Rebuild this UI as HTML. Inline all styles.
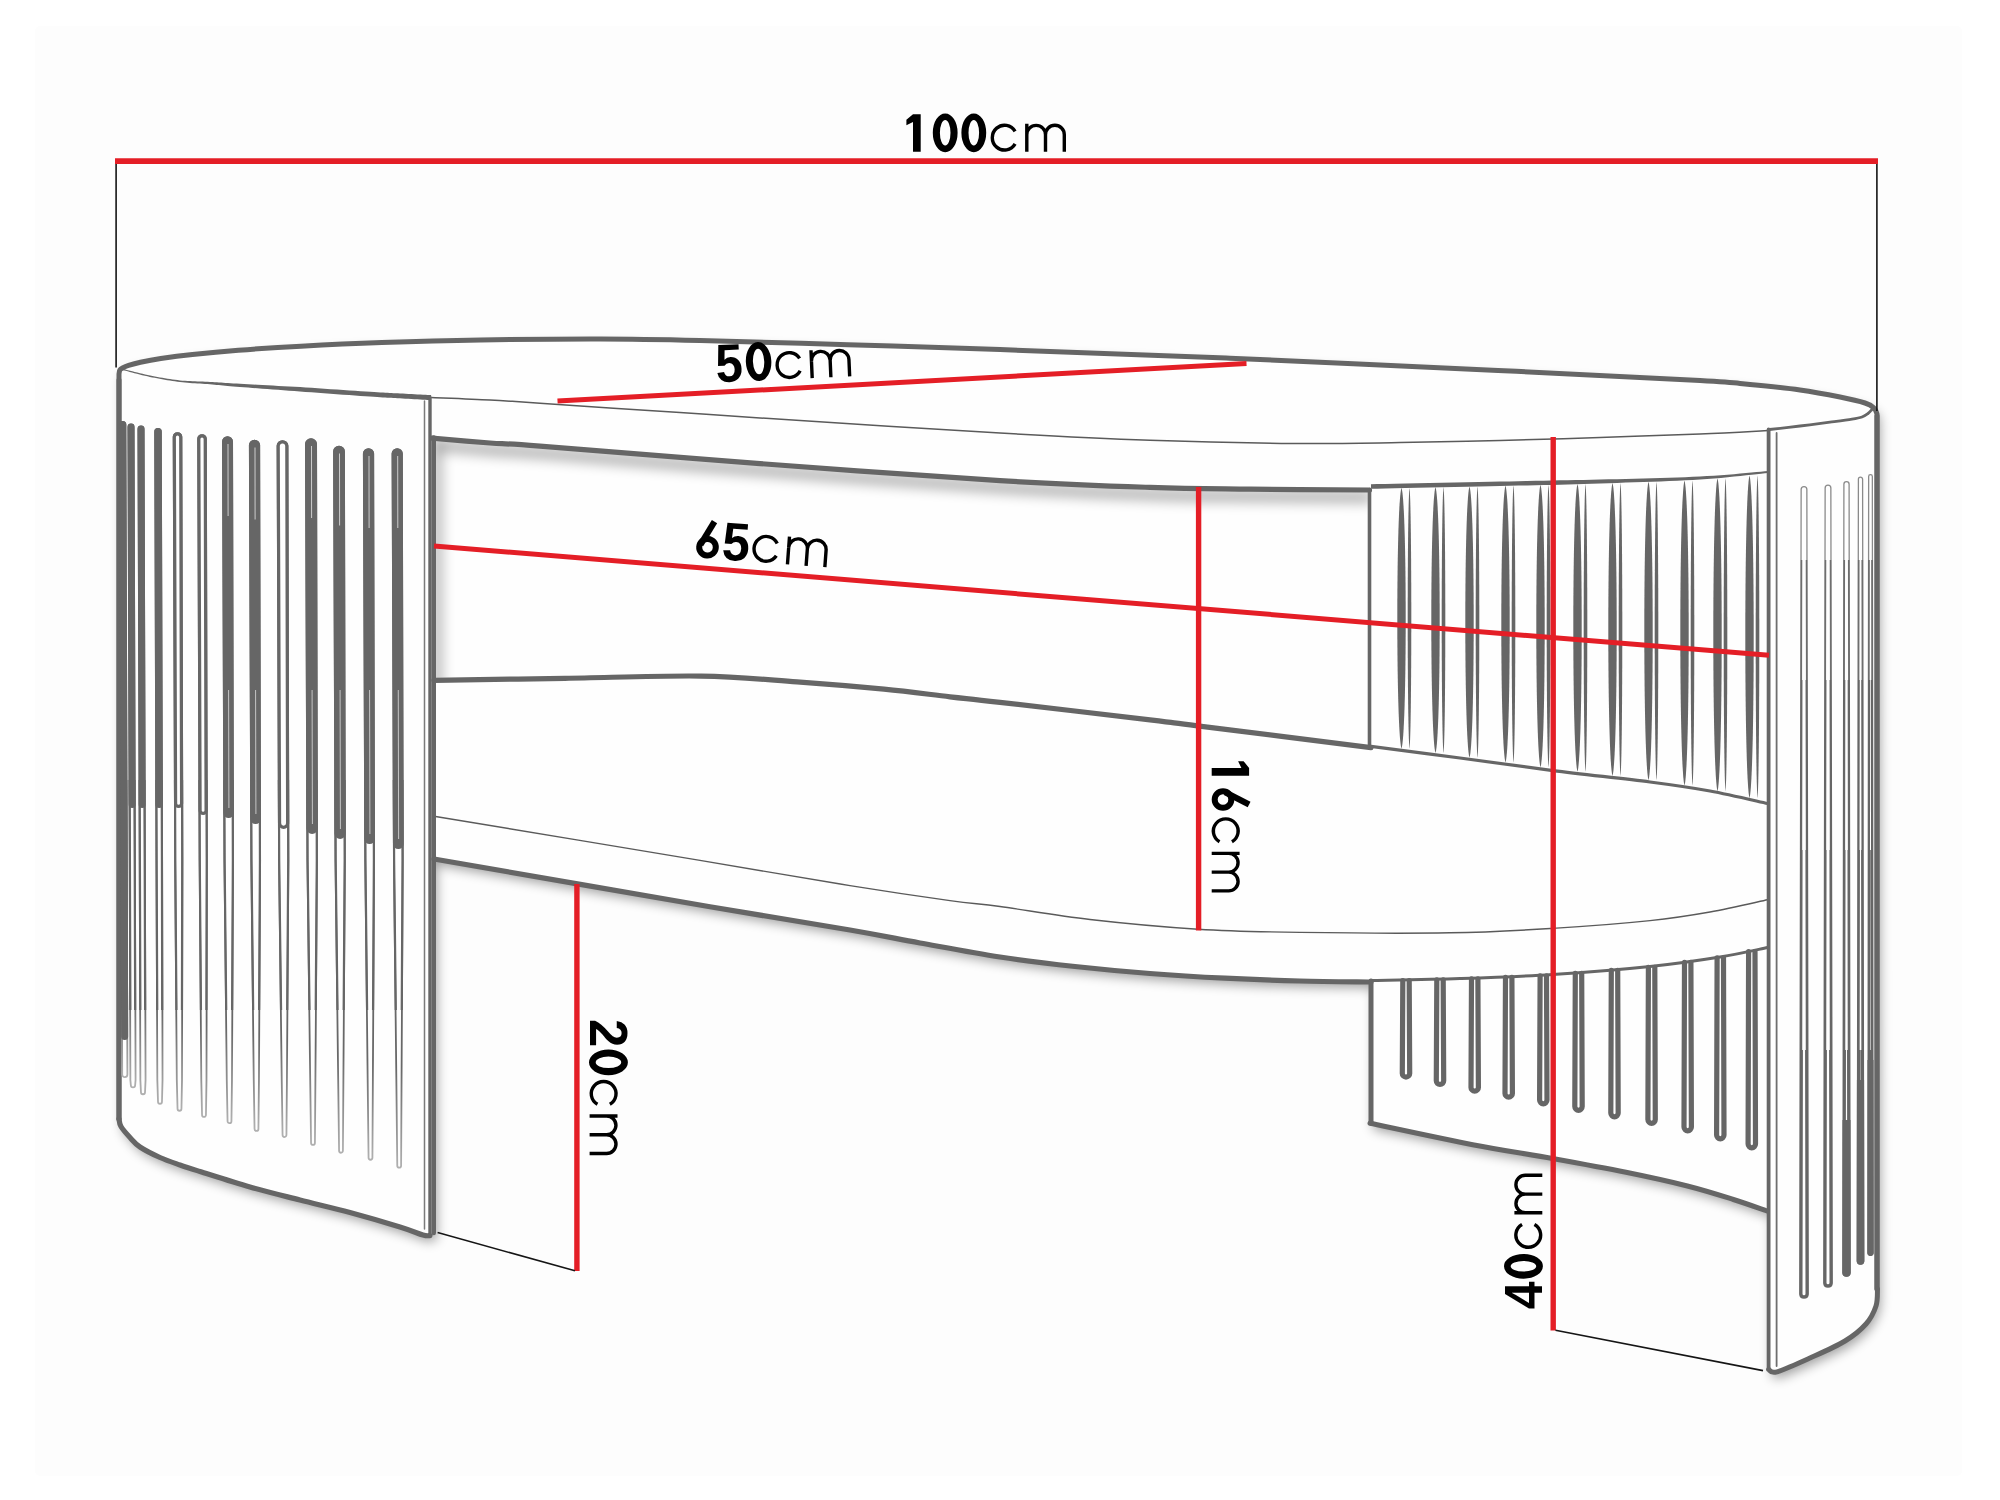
<!DOCTYPE html>
<html><head><meta charset="utf-8"><title>Table dimensions</title>
<style>
html,body{margin:0;padding:0;background:#fff;}
body{width:2000px;height:1500px;overflow:hidden;font-family:"Liberation Sans",sans-serif;}
svg{display:block;}
</style></head><body>
<svg xmlns="http://www.w3.org/2000/svg" width="2000" height="1500" viewBox="0 0 2000 1500">
<defs>
<filter id="blur6" x="-10%" y="-10%" width="120%" height="120%"><feGaussianBlur stdDeviation="6"/></filter>
<filter id="blur5" x="-10%" y="-10%" width="120%" height="120%"><feGaussianBlur stdDeviation="5"/></filter>
<filter id="blur7" x="-10%" y="-30%" width="120%" height="160%"><feGaussianBlur stdDeviation="7"/></filter>
<linearGradient id="gL" x1="0" y1="0" x2="0" y2="1">
  <stop offset="0" stop-color="#666"/><stop offset="0.86" stop-color="#686868"/><stop offset="1" stop-color="#b0b0b0"/>
</linearGradient>
<linearGradient id="gR" x1="0" y1="0" x2="0" y2="1">
  <stop offset="0" stop-color="#c0c0c0"/><stop offset="0.2" stop-color="#888"/><stop offset="1" stop-color="#666"/>
</linearGradient>
<clipPath id="cMid"><rect x="100" y="780" width="322" height="230"/></clipPath>
<clipPath id="cRa"><rect x="1780" y="460" width="100" height="100"/></clipPath>
<clipPath id="cRb"><rect x="1780" y="560" width="100" height="120"/></clipPath>
<clipPath id="cRc"><rect x="1780" y="680" width="100" height="170"/></clipPath>
<clipPath id="cRd"><rect x="1780" y="850" width="100" height="200"/></clipPath>
<clipPath id="cRe"><rect x="1780" y="1050" width="100" height="350"/></clipPath>
<clipPath id="cRf2"><rect x="1780" y="1120" width="100" height="300"/></clipPath>
<clipPath id="cRf3"><rect x="1780" y="1080" width="100" height="300"/></clipPath>
<clipPath id="cRf4"><rect x="1780" y="1060" width="100" height="300"/></clipPath>
</defs>
<rect x="0" y="0" width="2000" height="1500" fill="#fff"/>
<rect x="35" y="26" width="1927" height="1450" rx="5" fill="#fdfdfd"/>
<path d="M119,1119 L119,374 C119.14,373.34 119.29,371.01 119.87,370.02 C120.45,369.03 121.01,368.81 122.46,368.05 C123.91,367.29 125.59,366.41 128.59,365.44 C131.59,364.47 135.11,363.4 140.48,362.25 C145.85,361.1 152.14,359.84 160.8,358.54 C169.47,357.24 179.54,355.85 192.47,354.47 C205.4,353.09 220.29,351.63 238.38,350.24 C256.47,348.85 277.1,347.42 301.01,346.15 C324.92,344.88 351.88,343.61 381.82,342.59 C411.76,341.57 444.27,340.63 480.63,340.03 C516.99,339.43 563.44,338.92 600,339 C636.56,339.08 658.67,339.55 700,340.5 C741.33,341.45 798,343.18 848,344.7 C898,346.22 936.33,347.35 1000,349.6 C1063.67,351.85 1147,354.73 1230,358.2 C1313,361.67 1419.67,366.68 1498,370.4 C1576.33,374.12 1658,378.15 1700,380.5 C1742,382.85 1733.33,382.92 1750,384.5 C1766.67,386.08 1785,387.92 1800,390 C1815,392.08 1829.17,394.83 1840,397 C1850.83,399.17 1859.33,401.17 1865,403 C1870.67,404.83 1872,406.17 1874,408 C1876,409.83 1876.5,413 1877,414 L1877.5,1289 C1877.25,1291.83 1877.92,1300.17 1876,1306 C1874.08,1311.83 1871.17,1318.17 1866,1324 C1860.83,1329.83 1854.33,1335.33 1845,1341 C1835.67,1346.67 1821.33,1352.87 1810,1358 C1798.67,1363.13 1783.9,1369.88 1777,1371.8 C1770.1,1373.72 1770,1369.88 1768.6,1369.5 L1768.6,1211 C1761.4,1209.08 1746.67,1203.67 1733.4,1199.5 C1720.13,1195.33 1705.3,1190.53 1687.4,1186 C1669.5,1181.47 1648.48,1176.88 1626,1172.3 C1603.52,1167.72 1578.05,1163.1 1552.5,1158.5 C1526.95,1153.9 1503.12,1150.57 1472.7,1144.7 C1442.28,1138.83 1387.12,1126.87 1370,1123.3 L1371,982 C1359.17,981.83 1324.33,981.63 1300,981 C1275.67,980.37 1250,979.45 1225,978.2 C1200,976.95 1175,975.45 1150,973.5 C1125,971.55 1100,969.25 1075,966.5 C1050,963.75 1025.83,960.92 1000,957 C974.17,953.08 945,947.5 920,943 C895,938.5 885,936.03 850,930 C815,923.97 779.33,918.63 710,906.8 C640.67,894.97 480,866.97 434,859 L434,1233 C428.83,1235.5 428,1236.43 423,1235 C418,1233.57 412.17,1230.75 400,1227 C387.83,1223.25 366.67,1217 350,1212.5 C333.33,1208 316.67,1204.25 300,1200 C283.33,1195.75 266.67,1191.75 250,1187 C233.33,1182.25 211.67,1175.17 200,1171.5 C188.33,1167.83 186.67,1167.33 180,1165 C173.33,1162.67 166.67,1160.5 160,1157.5 C153.33,1154.5 145,1150.33 140,1147 C135,1143.67 133.17,1140.92 130,1137.5 C126.83,1134.08 122.83,1129.58 121,1126.5 C119.17,1123.42 119.33,1120.25 119,1119 Z" fill="#000" opacity="0.36" filter="url(#blur6)" transform="translate(3,6)"/>
<path d="M119,1119 L119,374 C119.14,373.34 119.29,371.01 119.87,370.02 C120.45,369.03 121.01,368.81 122.46,368.05 C123.91,367.29 125.59,366.41 128.59,365.44 C131.59,364.47 135.11,363.4 140.48,362.25 C145.85,361.1 152.14,359.84 160.8,358.54 C169.47,357.24 179.54,355.85 192.47,354.47 C205.4,353.09 220.29,351.63 238.38,350.24 C256.47,348.85 277.1,347.42 301.01,346.15 C324.92,344.88 351.88,343.61 381.82,342.59 C411.76,341.57 444.27,340.63 480.63,340.03 C516.99,339.43 563.44,338.92 600,339 C636.56,339.08 658.67,339.55 700,340.5 C741.33,341.45 798,343.18 848,344.7 C898,346.22 936.33,347.35 1000,349.6 C1063.67,351.85 1147,354.73 1230,358.2 C1313,361.67 1419.67,366.68 1498,370.4 C1576.33,374.12 1658,378.15 1700,380.5 C1742,382.85 1733.33,382.92 1750,384.5 C1766.67,386.08 1785,387.92 1800,390 C1815,392.08 1829.17,394.83 1840,397 C1850.83,399.17 1859.33,401.17 1865,403 C1870.67,404.83 1872,406.17 1874,408 C1876,409.83 1876.5,413 1877,414 L1877.5,1289 C1877.25,1291.83 1877.92,1300.17 1876,1306 C1874.08,1311.83 1871.17,1318.17 1866,1324 C1860.83,1329.83 1854.33,1335.33 1845,1341 C1835.67,1346.67 1821.33,1352.87 1810,1358 C1798.67,1363.13 1783.9,1369.88 1777,1371.8 C1770.1,1373.72 1770,1369.88 1768.6,1369.5 L1768.6,1211 C1761.4,1209.08 1746.67,1203.67 1733.4,1199.5 C1720.13,1195.33 1705.3,1190.53 1687.4,1186 C1669.5,1181.47 1648.48,1176.88 1626,1172.3 C1603.52,1167.72 1578.05,1163.1 1552.5,1158.5 C1526.95,1153.9 1503.12,1150.57 1472.7,1144.7 C1442.28,1138.83 1387.12,1126.87 1370,1123.3 L1371,982 C1359.17,981.83 1324.33,981.63 1300,981 C1275.67,980.37 1250,979.45 1225,978.2 C1200,976.95 1175,975.45 1150,973.5 C1125,971.55 1100,969.25 1075,966.5 C1050,963.75 1025.83,960.92 1000,957 C974.17,953.08 945,947.5 920,943 C895,938.5 885,936.03 850,930 C815,923.97 779.33,918.63 710,906.8 C640.67,894.97 480,866.97 434,859 L434,1233 C428.83,1235.5 428,1236.43 423,1235 C418,1233.57 412.17,1230.75 400,1227 C387.83,1223.25 366.67,1217 350,1212.5 C333.33,1208 316.67,1204.25 300,1200 C283.33,1195.75 266.67,1191.75 250,1187 C233.33,1182.25 211.67,1175.17 200,1171.5 C188.33,1167.83 186.67,1167.33 180,1165 C173.33,1162.67 166.67,1160.5 160,1157.5 C153.33,1154.5 145,1150.33 140,1147 C135,1143.67 133.17,1140.92 130,1137.5 C126.83,1134.08 122.83,1129.58 121,1126.5 C119.17,1123.42 119.33,1120.25 119,1119 Z" fill="#fefefe"/>
<clipPath id="winclip"><path d="M432,438.2 C441.67,439 472,441.68 490,443 C508,444.32 495,442.67 540,446.1 C585,449.53 683.33,457.85 760,463.6 C836.67,469.35 935,476.63 1000,480.6 C1065,484.57 1108.33,485.98 1150,487.4 C1191.67,488.82 1213.42,488.67 1250,489.1 C1286.58,489.53 1349.58,489.85 1369.5,490 L1369.5,746.3 C1342.08,743.97 1234.33,730.42 1197.5,725.8 C1160.67,721.18 1182.92,723.82 1150,719.9 C1117.08,715.98 1033.33,706.15 1000,702.3 C966.67,698.45 969.33,698.98 950,696.8 C930.67,694.62 909.5,691.68 884,689.2 C858.5,686.72 827.5,684.08 797,681.9 C766.5,679.72 739.67,676.7 701,676.1 C662.33,675.5 609.5,677.6 565,678.3 C520.5,679 455.83,679.97 434,680.3 Z"/></clipPath>
<g clip-path="url(#winclip)"><g opacity="0.5" filter="url(#blur7)" transform="translate(3,7)"><path d="M432,438.2 C441.67,439 472,441.68 490,443 C508,444.32 495,442.67 540,446.1 C585,449.53 683.33,457.85 760,463.6 C836.67,469.35 935,476.63 1000,480.6 C1065,484.57 1108.33,485.98 1150,487.4 C1191.67,488.82 1213.42,488.67 1250,489.1 C1286.58,489.53 1349.58,489.85 1369.5,490" fill="none" stroke="#000" stroke-width="7"/><path d="M433.8,430 L433.8,700" stroke="#000" stroke-width="6"/></g></g>
<g>
<path d="M119,1119 L119,374 C119.14,373.34 119.29,371.01 119.87,370.02 C120.45,369.03 121.01,368.81 122.46,368.05 C123.91,367.29 125.59,366.41 128.59,365.44 C131.59,364.47 135.11,363.4 140.48,362.25 C145.85,361.1 152.14,359.84 160.8,358.54 C169.47,357.24 179.54,355.85 192.47,354.47 C205.4,353.09 220.29,351.63 238.38,350.24 C256.47,348.85 277.1,347.42 301.01,346.15 C324.92,344.88 351.88,343.61 381.82,342.59 C411.76,341.57 444.27,340.63 480.63,340.03 C516.99,339.43 563.44,338.92 600,339 C636.56,339.08 658.67,339.55 700,340.5 C741.33,341.45 798,343.18 848,344.7 C898,346.22 936.33,347.35 1000,349.6 C1063.67,351.85 1147,354.73 1230,358.2 C1313,361.67 1419.67,366.68 1498,370.4 C1576.33,374.12 1658,378.15 1700,380.5 C1742,382.85 1733.33,382.92 1750,384.5 C1766.67,386.08 1785,387.92 1800,390 C1815,392.08 1829.17,394.83 1840,397 C1850.83,399.17 1859.33,401.17 1865,403 C1870.67,404.83 1872,406.17 1874,408 C1876,409.83 1876.5,413 1877,414 L1877,1289" fill="none" stroke="#666666" stroke-width="5" stroke-linecap="round" stroke-linejoin="round"/>
<path d="M122.85,370.08 L124.14,370.41 L125.75,370.84 L127.62,371.34 L129.73,371.9 L132.02,372.51 L134.46,373.16 L137.01,373.82 L139.62,374.48 L142.25,375.14 L144.86,375.76 L147.41,376.35 L149.86,376.88 L152.26,377.38 L154.69,377.87 L157.15,378.35 L159.65,378.82 L162.16,379.29 L164.69,379.74 L167.23,380.17 L169.77,380.58 L172.32,380.97 L174.86,381.34 L177.39,381.68 L179.91,381.99 L182.42,382.29 L184.93,382.56 L187.44,382.78 L189.94,382.98 L192.45,383.16 L194.95,383.32 L197.45,383.47 L199.95,383.62 L202.45,383.77 L204.94,383.93 L207.43,384.1 L209.92,384.3 L212.31,384.5 L214.56,384.7 L216.69,384.9 L218.78,385.09 L220.87,385.29 L223.01,385.5 L225.26,385.71 L227.66,385.93 L230.28,386.17 L233.15,386.43 L236.34,386.7 L239.89,387 L243.81,387.3 L248.04,387.62 L252.54,387.96 L257.29,388.31 L262.25,388.68 L267.38,389.06 L272.65,389.45 L278.02,389.84 L283.46,390.25 L288.94,390.66 L294.41,391.08 L299.85,391.49 L305.46,391.89 L311.4,392.32 L317.58,392.76 L323.91,393.23 L330.32,393.7 L336.71,394.17 L343,394.63 L349.1,395.07 L354.92,395.5 L360.37,395.89 L365.38,396.25 L369.84,396.56 L373.75,396.82 L377.16,397.04 L380.15,397.23 L382.79,397.39 L385.15,397.53 L387.31,397.65 L389.33,397.76 L391.29,397.86 L393.25,397.96 L395.28,398.07 L397.46,398.19 L399.87,398.33 L402.51,398.48 L405.33,398.64 L408.27,398.81 L411.27,398.98 L414.28,399.15 L417.24,399.32 L420.1,399.48 L422.79,399.64 L425.27,399.78 L427.48,399.9 L429.36,400.01 L430.86,400.1 L431.14,395.1 L429.64,395.03 L427.75,394.93 L425.54,394.81 L423.06,394.68 L420.37,394.54 L417.51,394.39 L414.55,394.24 L411.54,394.08 L408.54,393.92 L405.6,393.77 L402.78,393.62 L400.13,393.47 L397.72,393.35 L395.53,393.24 L393.49,393.14 L391.53,393.05 L389.58,392.95 L387.56,392.85 L385.42,392.74 L383.06,392.62 L380.43,392.47 L377.45,392.3 L374.05,392.09 L370.16,391.84 L365.69,391.56 L360.69,391.22 L355.24,390.86 L349.42,390.46 L343.33,390.04 L337.04,389.61 L330.64,389.17 L324.23,388.73 L317.89,388.29 L311.71,387.87 L305.76,387.48 L300.15,387.11 L294.7,386.79 L289.21,386.49 L283.73,386.19 L278.27,385.89 L272.89,385.6 L267.62,385.32 L262.48,385.04 L257.52,384.77 L252.77,384.52 L248.26,384.27 L244.03,384.03 L240.11,383.8 L236.56,383.6 L233.38,383.41 L230.5,383.24 L227.89,383.07 L225.49,382.91 L223.24,382.75 L221.09,382.61 L219,382.46 L216.9,382.32 L214.75,382.18 L212.49,382.04 L210.08,381.9 L207.57,381.77 L205.06,381.66 L202.55,381.57 L200.05,381.49 L197.55,381.4 L195.05,381.32 L192.55,381.23 L190.06,381.12 L187.56,380.99 L185.07,380.83 L182.58,380.64 L180.09,380.41 L177.59,380.11 L175.07,379.79 L172.54,379.44 L170.01,379.07 L167.47,378.68 L164.94,378.26 L162.42,377.83 L159.91,377.39 L157.42,376.93 L154.96,376.47 L152.53,376 L150.14,375.52 L147.71,375.01 L145.17,374.44 L142.56,373.84 L139.94,373.2 L137.33,372.56 L134.79,371.92 L132.34,371.29 L130.05,370.7 L127.94,370.15 L126.06,369.66 L124.45,369.24 L123.15,368.92 Z" fill="#666666"/>
<path d="M431,397.4 C440.83,397.82 471.83,398.92 490,399.9 C508.17,400.88 508.33,401.18 540,403.3 C571.67,405.42 643.33,410.17 680,412.6 C716.67,415.03 706.67,414.5 760,417.9 C813.33,421.3 935,429.27 1000,433 C1065,436.73 1101.25,438.55 1150,440.3 C1198.75,442.05 1250.83,443.12 1292.5,443.5 C1334.17,443.88 1365.42,443.1 1400,442.6 C1434.58,442.1 1466.67,441.35 1500,440.5 C1533.33,439.65 1566.67,438.58 1600,437.5 C1633.33,436.42 1671.83,435.17 1700,434 C1728.17,432.83 1757.5,431.08 1769,430.5" fill="none" stroke="#5a5a5a" stroke-width="1.5" stroke-linecap="round" stroke-linejoin="round"/>
<path d="M1769.5,429.5 C1774.58,428.92 1789.92,427.22 1800,426 C1810.08,424.78 1821.33,423.33 1830,422.2 C1838.67,421.07 1846.67,420.07 1852,419.2 C1857.33,418.33 1859.33,417.95 1862,417 C1864.67,416.05 1866.5,414.58 1868,413.5 C1869.5,412.42 1870.17,411.33 1871,410.5 C1871.83,409.67 1872.67,408.83 1873,408.5" fill="none" stroke="#666666" stroke-width="2.8" stroke-linecap="round" stroke-linejoin="round"/>
<path d="M1371.05,488.8 L1377.37,488.66 L1385.42,488.49 L1394.91,488.29 L1405.57,488.07 L1417.12,487.82 L1429.3,487.56 L1441.82,487.29 L1454.42,487.02 L1466.81,486.76 L1478.73,486.5 L1489.9,486.25 L1500.05,486.03 L1509.4,485.82 L1518.39,485.62 L1527.09,485.44 L1535.53,485.26 L1543.77,485.08 L1551.86,484.89 L1559.85,484.68 L1567.79,484.46 L1575.73,484.23 L1583.72,483.99 L1591.81,483.74 L1600.06,483.47 L1608.49,483.18 L1617.09,482.9 L1625.8,482.61 L1634.57,482.32 L1643.34,482.02 L1652.06,481.7 L1660.66,481.38 L1669.1,481.04 L1677.32,480.68 L1685.26,480.31 L1692.86,479.91 L1700.09,479.5 L1707.1,479.01 L1714.08,478.47 L1720.95,477.88 L1727.67,477.26 L1734.16,476.62 L1740.37,475.98 L1746.22,475.36 L1751.67,474.76 L1756.64,474.22 L1761.08,473.73 L1764.91,473.32 L1768.09,473 L1767.91,471 L1764.72,471.28 L1760.87,471.64 L1756.42,472.06 L1751.44,472.53 L1745.99,473.05 L1740.13,473.58 L1733.93,474.13 L1727.44,474.67 L1720.73,475.19 L1713.87,475.68 L1706.91,476.12 L1699.91,476.5 L1692.71,476.85 L1685.11,477.17 L1677.18,477.47 L1668.98,477.75 L1660.54,478.01 L1651.94,478.26 L1643.23,478.49 L1634.47,478.71 L1625.7,478.92 L1616.98,479.13 L1608.38,479.33 L1599.94,479.53 L1591.7,479.73 L1583.62,479.91 L1575.63,480.07 L1567.69,480.22 L1559.75,480.37 L1551.76,480.51 L1543.68,480.67 L1535.44,480.84 L1526.99,481.01 L1518.3,481.19 L1509.3,481.38 L1499.95,481.57 L1489.81,481.79 L1478.64,482.02 L1466.72,482.26 L1454.32,482.52 L1441.73,482.77 L1429.2,483.03 L1417.03,483.27 L1405.47,483.5 L1394.81,483.72 L1385.32,483.91 L1377.28,484.07 L1370.95,484.2 Z" fill="#666666"/>
<path d="M1371,746.3 C1385.83,748.25 1429.67,753.95 1460,758 C1490.33,762.05 1521.33,766.6 1553,770.6 C1584.67,774.6 1623.83,778.6 1650,782 C1676.17,785.4 1690.42,787.42 1710,791 C1729.58,794.58 1757.92,801.42 1767.5,803.5" fill="none" stroke="#666666" stroke-width="3.2" stroke-linecap="round" stroke-linejoin="round"/>
<path d="M434,816.2 C478.33,823.57 630.67,848.83 700,860.4 C769.33,871.97 808.33,878.9 850,885.6 C891.67,892.3 925,897.12 950,900.6 C975,904.08 976.67,903.35 1000,906.5 C1023.33,909.65 1057,915.72 1090,919.5 C1123,923.28 1163,927.05 1198,929.2 C1233,931.35 1258,931.8 1300,932.4 C1342,933 1407.9,933.47 1450,932.8 C1492.1,932.13 1519.27,930.43 1552.6,928.4 C1585.93,926.37 1623.77,923.33 1650,920.6 C1676.23,917.87 1690.42,915.47 1710,912 C1729.58,908.53 1757.92,901.83 1767.5,899.8" fill="none" stroke="#5a5a5a" stroke-width="1.4" stroke-linecap="round" stroke-linejoin="round"/>
<path d="M119,1119 L119,380" fill="none" stroke="#666666" stroke-width="5" stroke-linecap="round" stroke-linejoin="round"/>
<path d="M1877,416 L1877,1289" fill="none" stroke="#666666" stroke-width="5" stroke-linecap="round" stroke-linejoin="round"/>
<path d="M119,1119 C119.33,1120.25 119.17,1123.42 121,1126.5 C122.83,1129.58 126.83,1134.08 130,1137.5 C133.17,1140.92 135,1143.67 140,1147 C145,1150.33 153.33,1154.5 160,1157.5 C166.67,1160.5 173.33,1162.67 180,1165 C186.67,1167.33 188.33,1167.83 200,1171.5 C211.67,1175.17 233.33,1182.25 250,1187 C266.67,1191.75 283.33,1195.75 300,1200 C316.67,1204.25 333.33,1208 350,1212.5 C366.67,1217 387.83,1223.25 400,1227 C412.17,1230.75 418,1233.57 423,1235 C428,1236.43 428.83,1235.5 430,1235.6" fill="none" stroke="#666666" stroke-width="5.2" stroke-linecap="round" stroke-linejoin="round"/>
<path d="M430,397.5 L430,1236" fill="none" stroke="#666666" stroke-width="3.4" stroke-linecap="round" stroke-linejoin="round"/>
<path d="M433.8,437.5 L433.8,1233" fill="none" stroke="#666666" stroke-width="4.4" stroke-linecap="round" stroke-linejoin="round"/>
<path d="M1768.6,429.5 L1768.6,1369" fill="none" stroke="#666666" stroke-width="3.8" stroke-linecap="round" stroke-linejoin="round"/>
<path d="M1768.6,1369.5 C1770,1369.88 1770.1,1373.72 1777,1371.8 C1783.9,1369.88 1798.67,1363.13 1810,1358 C1821.33,1352.87 1835.67,1346.67 1845,1341 C1854.33,1335.33 1860.83,1329.83 1866,1324 C1871.17,1318.17 1874.08,1311.83 1876,1306 C1877.92,1300.17 1877.25,1291.83 1877.5,1289" fill="none" stroke="#666666" stroke-width="5" stroke-linecap="round" stroke-linejoin="round"/>
<path d="M432,438.2 C441.67,439 472,441.68 490,443 C508,444.32 495,442.67 540,446.1 C585,449.53 683.33,457.85 760,463.6 C836.67,469.35 935,476.63 1000,480.6 C1065,484.57 1108.33,485.98 1150,487.4 C1191.67,488.82 1213.42,488.67 1250,489.1 C1286.58,489.53 1349.58,489.85 1369.5,490" fill="none" stroke="#666666" stroke-width="5.2" stroke-linecap="round" stroke-linejoin="round"/>
<path d="M1369.5,489.5 L1369.5,746.5" fill="none" stroke="#666666" stroke-width="3.6" stroke-linecap="round" stroke-linejoin="round"/>
<path d="M434,680.3 C455.83,679.97 520.5,679 565,678.3 C609.5,677.6 662.33,675.5 701,676.1 C739.67,676.7 766.5,679.72 797,681.9 C827.5,684.08 858.5,686.72 884,689.2 C909.5,691.68 930.67,694.62 950,696.8 C969.33,698.98 966.67,698.45 1000,702.3 C1033.33,706.15 1117.08,715.98 1150,719.9 C1182.92,723.82 1160.67,721.18 1197.5,725.8 C1234.33,730.42 1342.08,743.97 1371,747.6" fill="none" stroke="#666666" stroke-width="5.2" stroke-linecap="round" stroke-linejoin="round"/>
<path d="M434,859 C480,866.97 640.67,894.97 710,906.8 C779.33,918.63 815,923.97 850,930 C885,936.03 895,938.5 920,943 C945,947.5 974.17,953.08 1000,957 C1025.83,960.92 1050,963.75 1075,966.5 C1100,969.25 1125,971.55 1150,973.5 C1175,975.45 1200,976.95 1225,978.2 C1250,979.45 1275.67,980.37 1300,981 C1324.33,981.63 1359.17,981.83 1371,982" fill="none" stroke="#666666" stroke-width="5.2" stroke-linecap="round" stroke-linejoin="round"/>
<path d="M1371,980.5 C1385.83,980.17 1429.73,979.5 1460,978.5 C1490.27,977.5 1520.93,976.5 1552.6,974.5 C1584.27,972.5 1622.1,969.42 1650,966.5 C1677.9,963.58 1700.42,960.17 1720,957 C1739.58,953.83 1759.58,949.08 1767.5,947.5" fill="none" stroke="#666666" stroke-width="3" stroke-linecap="round" stroke-linejoin="round"/>
<path d="M1371,981 L1371,1123" fill="none" stroke="#666666" stroke-width="5" stroke-linecap="round" stroke-linejoin="round"/>
<path d="M1370,1123.3 C1387.12,1126.87 1442.28,1138.83 1472.7,1144.7 C1503.12,1150.57 1526.95,1153.9 1552.5,1158.5 C1578.05,1163.1 1603.52,1167.72 1626,1172.3 C1648.48,1176.88 1669.5,1181.47 1687.4,1186 C1705.3,1190.53 1720.13,1195.33 1733.4,1199.5 C1746.67,1203.67 1761.4,1209.08 1767,1211" fill="none" stroke="#666666" stroke-width="5" stroke-linecap="round" stroke-linejoin="round"/>
</g>
<g>
<path d="M424.5,401 L424.5,1229" fill="none" stroke="#7a7a7a" stroke-width="1.5" stroke-linecap="round" stroke-linejoin="round"/>
<path d="M1776.6,433 L1776.6,1366" fill="none" stroke="#6e6e6e" stroke-width="1.8" stroke-linecap="round" stroke-linejoin="round"/>
<path d="M120.21,424.5 L121.54,860 L122.19,1074.5 A2.6,2.6 0 0 0 127.39,1074.5 L126.74,860 L125.41,424.5 A2.6,2.6 0 0 0 120.21,424.5 Z" fill="none" stroke="url(#gL)" stroke-width="1.8"/>
<path d="M120.41,424.5 L121.74,860 L122.39,1074.5 A2.4,2.4 0 0 0 127.19,1074.5 L126.54,860 L125.21,424.5 A2.4,2.4 0 0 0 120.41,424.5 Z" fill="none" stroke="#666666" stroke-width="2.2" clip-path="url(#cMid)"/>
<path d="M119.31,424.5 L120.64,860 L121.17,1036.5 A3.5,3.5 0 0 0 128.17,1036.5 L127.64,860 L126.31,424.5 A3.5,3.5 0 0 0 119.31,424.5 Z" fill="#666666"/>
<path d="M128.41,427 L129.71,860 L130.38,1080 L130.85,1085.2 A1.9,1.9 0 0 0 135.14,1085.2 L135.58,1080 L134.91,860 L133.61,427 A2.6,2.6 0 0 0 128.41,427 Z" fill="none" stroke="url(#gL)" stroke-width="1.8"/>
<path d="M128.61,427 L129.91,860 L130.58,1080 L131.05,1085.2 A1.7,1.7 0 0 0 134.94,1085.2 L135.38,1080 L134.71,860 L133.41,427 A2.4,2.4 0 0 0 128.61,427 Z" fill="none" stroke="#666666" stroke-width="2.2" clip-path="url(#cMid)"/>
<path d="M127.51,427 L128.65,804.5 A3.5,3.5 0 0 0 135.65,804.5 L134.51,427 A3.5,3.5 0 0 0 127.51,427 Z" fill="#666666"/>
<path d="M138.41,429 L139.7,860 L140.36,1080 L140.96,1092.2 A1.9,1.9 0 0 0 145.02,1092.2 L145.56,1080 L144.9,860 L143.61,429 A2.6,2.6 0 0 0 138.41,429 Z" fill="none" stroke="url(#gL)" stroke-width="1.8"/>
<path d="M138.61,429 L139.9,860 L140.56,1080 L141.16,1092.2 A1.7,1.7 0 0 0 144.82,1092.2 L145.36,1080 L144.7,860 L143.41,429 A2.4,2.4 0 0 0 138.61,429 Z" fill="none" stroke="#666666" stroke-width="2.2" clip-path="url(#cMid)"/>
<path d="M137.51,429 L138.63,804.5 A3.5,3.5 0 0 0 145.63,804.5 L144.51,429 A3.5,3.5 0 0 0 137.51,429 Z" fill="#666666"/>
<path d="M155.16,431.75 L156.43,860 L157.33,1080 L158.01,1101.8 A1.9,1.9 0 0 0 161.97,1101.8 L162.53,1080 L162.13,860 L160.86,431.75 A2.85,2.85 0 0 0 155.16,431.75 Z" fill="none" stroke="url(#gL)" stroke-width="1.8"/>
<path d="M155.36,431.75 L156.63,860 L157.53,1080 L158.21,1101.8 A1.7,1.7 0 0 0 161.77,1101.8 L162.33,1080 L161.93,860 L160.66,431.75 A2.65,2.65 0 0 0 155.36,431.75 Z" fill="none" stroke="#666666" stroke-width="2.2" clip-path="url(#cMid)"/>
<path d="M154.26,431.75 L155.36,804.25 A3.75,3.75 0 0 0 162.86,804.25 L161.76,431.75 A3.75,3.75 0 0 0 154.26,431.75 Z" fill="#666666"/>
<path d="M173.62,436.8 L175.1,860 L176.81,1080 L177.53,1108.8 A1.9,1.9 0 0 0 181.45,1108.8 L182.01,1080 L182.42,860 L181.41,436.8 A3.9,3.9 0 0 0 173.62,436.8 Z" fill="none" stroke="url(#gL)" stroke-width="1.8"/>
<path d="M173.82,436.8 L175.3,860 L177.01,1080 L177.73,1108.8 A1.7,1.7 0 0 0 181.25,1108.8 L181.81,1080 L182.22,860 L181.21,436.8 A3.7,3.7 0 0 0 173.82,436.8 Z" fill="none" stroke="#666666" stroke-width="2.2" clip-path="url(#cMid)"/>
<path d="M174.32,436.8 L175.6,803.41 A2.99,2.99 0 0 0 181.58,803.41 L180.71,436.8 A3.2,3.2 0 0 0 174.32,436.8 Z" fill="none" stroke="#666666" stroke-width="3.2"/>
<path d="M198.12,438.8 L199.59,860 L201.29,1080 L202.04,1115 A1.9,1.9 0 0 0 205.94,1115 L206.49,1080 L206.91,860 L205.91,438.8 A3.9,3.9 0 0 0 198.12,438.8 Z" fill="none" stroke="url(#gL)" stroke-width="1.8"/>
<path d="M198.32,438.8 L199.79,860 L201.49,1080 L202.24,1115 A1.7,1.7 0 0 0 205.74,1115 L206.29,1080 L206.71,860 L205.71,438.8 A3.7,3.7 0 0 0 198.32,438.8 Z" fill="none" stroke="#666666" stroke-width="2.2" clip-path="url(#cMid)"/>
<path d="M198.82,438.8 L200.11,810.41 A2.99,2.99 0 0 0 206.09,810.41 L205.21,438.8 A3.2,3.2 0 0 0 198.82,438.8 Z" fill="none" stroke="#666666" stroke-width="3.2"/>
<path d="M222.92,441.5 L224.41,860 L226.77,1080 L227.55,1121.2 A1.9,1.9 0 0 0 231.44,1121.2 L231.97,1080 L233.06,860 L232.11,441.5 A4.6,4.6 0 0 0 222.92,441.5 Z" fill="none" stroke="url(#gL)" stroke-width="1.8"/>
<path d="M223.12,441.5 L224.61,860 L226.97,1080 L227.75,1121.2 A1.7,1.7 0 0 0 231.24,1121.2 L231.77,1080 L232.86,860 L231.91,441.5 A4.4,4.4 0 0 0 223.12,441.5 Z" fill="none" stroke="#666666" stroke-width="2.2" clip-path="url(#cMid)"/>
<path d="M222.02,441.5 L223.34,812.75 A5.25,5.25 0 0 0 233.85,812.75 L233.01,441.5 A5.5,5.5 0 0 0 222.02,441.5 Z" fill="#666666"/>
<line x1="228" y1="444" x2="228.1" y2="516" stroke="#d8d8d8" stroke-width="0.9" stroke-linecap="butt"/>
<line x1="228.58" y1="690" x2="228.91" y2="808" stroke="#d0d0d0" stroke-width="0.9" stroke-linecap="butt"/>
<path d="M249.82,445.1 L251.29,860 L253.75,1080 L254.55,1129 A1.9,1.9 0 0 0 258.43,1129 L258.95,1080 L260.13,860 L259.21,445.1 A4.7,4.7 0 0 0 249.82,445.1 Z" fill="none" stroke="url(#gL)" stroke-width="1.8"/>
<path d="M250.02,445.1 L251.49,860 L253.95,1080 L254.75,1129 A1.7,1.7 0 0 0 258.23,1129 L258.75,1080 L259.93,860 L259.01,445.1 A4.5,4.5 0 0 0 250.02,445.1 Z" fill="none" stroke="#666666" stroke-width="2.2" clip-path="url(#cMid)"/>
<path d="M248.92,445.1 L250.25,818.66 A5.34,5.34 0 0 0 260.94,818.66 L260.11,445.1 A5.6,5.6 0 0 0 248.92,445.1 Z" fill="#666666"/>
<line x1="255" y1="447.5" x2="255.1" y2="519.5" stroke="#d8d8d8" stroke-width="0.9" stroke-linecap="butt"/>
<line x1="255.58" y1="690" x2="255.91" y2="814" stroke="#d0d0d0" stroke-width="0.9" stroke-linecap="butt"/>
<path d="M277.52,445.9 L279,860 L281.73,1080 L282.56,1135.1 A1.9,1.9 0 0 0 286.43,1135.1 L286.93,1080 L288.41,860 L287.51,445.9 A5,5 0 0 0 277.52,445.9 Z" fill="none" stroke="url(#gL)" stroke-width="1.8"/>
<path d="M277.72,445.9 L279.2,860 L281.93,1080 L282.76,1135.1 A1.7,1.7 0 0 0 286.23,1135.1 L286.73,1080 L288.21,860 L287.31,445.9 A4.8,4.8 0 0 0 277.72,445.9 Z" fill="none" stroke="#666666" stroke-width="2.2" clip-path="url(#cMid)"/>
<path d="M278.22,445.9 L279.57,823.37 A4.03,4.03 0 0 0 287.63,823.37 L286.81,445.9 A4.3,4.3 0 0 0 278.22,445.9 Z" fill="none" stroke="#666666" stroke-width="3.2"/>
<path d="M305.92,444 L307.39,860 L310.21,1080 L311.06,1143 A1.9,1.9 0 0 0 314.92,1143 L315.41,1080 L316.99,860 L316.11,444 A5.1,5.1 0 0 0 305.92,444 Z" fill="none" stroke="url(#gL)" stroke-width="1.8"/>
<path d="M306.12,444 L307.59,860 L310.41,1080 L311.26,1143 A1.7,1.7 0 0 0 314.72,1143 L315.21,1080 L316.79,860 L315.91,444 A4.9,4.9 0 0 0 306.12,444 Z" fill="none" stroke="#666666" stroke-width="2.2" clip-path="url(#cMid)"/>
<path d="M305.02,444 L306.38,828.28 A5.72,5.72 0 0 0 317.83,828.28 L317.01,444 A6,6 0 0 0 305.02,444 Z" fill="#666666"/>
<line x1="311.5" y1="446" x2="311.6" y2="518" stroke="#d8d8d8" stroke-width="0.9" stroke-linecap="butt"/>
<line x1="312.08" y1="690" x2="312.42" y2="824" stroke="#d0d0d0" stroke-width="0.9" stroke-linecap="butt"/>
<path d="M334.02,451.4 L335.47,860 L338.19,1080 L339.07,1150.8 A1.9,1.9 0 0 0 342.92,1150.8 L343.39,1080 L344.88,860 L344.01,451.4 A5,5 0 0 0 334.02,451.4 Z" fill="none" stroke="url(#gL)" stroke-width="1.8"/>
<path d="M334.22,451.4 L335.67,860 L338.39,1080 L339.27,1150.8 A1.7,1.7 0 0 0 342.72,1150.8 L343.19,1080 L344.68,860 L343.81,451.4 A4.8,4.8 0 0 0 334.22,451.4 Z" fill="none" stroke="#666666" stroke-width="2.2" clip-path="url(#cMid)"/>
<path d="M333.12,451.4 L334.47,833.38 A5.62,5.62 0 0 0 345.72,833.38 L344.91,451.4 A5.9,5.9 0 0 0 333.12,451.4 Z" fill="#666666"/>
<line x1="339.5" y1="453.5" x2="339.6" y2="525.5" stroke="#d8d8d8" stroke-width="0.9" stroke-linecap="butt"/>
<line x1="340.08" y1="690" x2="340.41" y2="829" stroke="#d0d0d0" stroke-width="0.9" stroke-linecap="butt"/>
<path d="M363.82,453.6 L365.24,860 L367.67,1080 L368.57,1157.8 A1.9,1.9 0 0 0 372.42,1157.8 L372.87,1080 L374.08,860 L373.21,453.6 A4.7,4.7 0 0 0 363.82,453.6 Z" fill="none" stroke="url(#gL)" stroke-width="1.8"/>
<path d="M364.02,453.6 L365.44,860 L367.87,1080 L368.77,1157.8 A1.7,1.7 0 0 0 372.22,1157.8 L372.67,1080 L373.88,860 L373.01,453.6 A4.5,4.5 0 0 0 364.02,453.6 Z" fill="none" stroke="#666666" stroke-width="2.2" clip-path="url(#cMid)"/>
<path d="M362.92,453.6 L364.26,838.67 A5.33,5.33 0 0 0 374.93,838.67 L374.11,453.6 A5.6,5.6 0 0 0 362.92,453.6 Z" fill="#666666"/>
<line x1="369" y1="456" x2="369.1" y2="528" stroke="#d8d8d8" stroke-width="0.9" stroke-linecap="butt"/>
<line x1="369.58" y1="690" x2="369.91" y2="834" stroke="#d0d0d0" stroke-width="0.9" stroke-linecap="butt"/>
<path d="M392.52,453.6 L393.92,860 L396.35,1080 L397.27,1165.7 A1.9,1.9 0 0 0 401.11,1165.7 L401.55,1080 L402.76,860 L401.91,453.6 A4.7,4.7 0 0 0 392.52,453.6 Z" fill="none" stroke="url(#gL)" stroke-width="1.8"/>
<path d="M392.72,453.6 L394.12,860 L396.55,1080 L397.47,1165.7 A1.7,1.7 0 0 0 400.91,1165.7 L401.35,1080 L402.56,860 L401.71,453.6 A4.5,4.5 0 0 0 392.72,453.6 Z" fill="none" stroke="#666666" stroke-width="2.2" clip-path="url(#cMid)"/>
<path d="M391.62,453.6 L392.97,843.67 A5.33,5.33 0 0 0 403.63,843.67 L402.81,453.6 A5.6,5.6 0 0 0 391.62,453.6 Z" fill="#666666"/>
<line x1="397.7" y1="456" x2="397.8" y2="528" stroke="#d8d8d8" stroke-width="0.9" stroke-linecap="butt"/>
<line x1="398.28" y1="690" x2="398.61" y2="839" stroke="#d0d0d0" stroke-width="0.9" stroke-linecap="butt"/>
<path d="M1801.14,489.5 L1799.76,1294.1 A4.25,4.25 0 0 0 1808.24,1294.1 L1806.86,489.5 A2.85,2.85 0 0 0 1801.14,489.5 Z" fill="none" stroke="#8a8a8a" stroke-width="1.3" clip-path="url(#cRa)"/>
<path d="M1801.44,489.5 L1800.06,1294.1 A3.95,3.95 0 0 0 1807.94,1294.1 L1806.56,489.5 A2.55,2.55 0 0 0 1801.44,489.5 Z" fill="none" stroke="#6e6e6e" stroke-width="1.9" clip-path="url(#cRb)"/>
<path d="M1801.64,489.5 L1800.26,1294.1 A3.75,3.75 0 0 0 1807.74,1294.1 L1806.36,489.5 A2.35,2.35 0 0 0 1801.64,489.5 Z" fill="none" stroke="#666" stroke-width="2.3" clip-path="url(#cRc)"/>
<path d="M1801.84,489.5 L1800.46,1294.1 A3.55,3.55 0 0 0 1807.54,1294.1 L1806.16,489.5 A2.15,2.15 0 0 0 1801.84,489.5 Z" fill="none" stroke="#666" stroke-width="2.7" clip-path="url(#cRd)"/>
<path d="M1802.19,489.5 L1800.81,1294.1 A3.2,3.2 0 0 0 1807.19,1294.1 L1805.81,489.5 A1.8,1.8 0 0 0 1802.19,489.5 Z" fill="none" stroke="#666" stroke-width="3.4" clip-path="url(#cRe)"/>
<path d="M1825.14,488 L1823.76,1283.1 A4.25,4.25 0 0 0 1832.24,1283.1 L1830.86,488 A2.85,2.85 0 0 0 1825.14,488 Z" fill="none" stroke="#8a8a8a" stroke-width="1.3" clip-path="url(#cRa)"/>
<path d="M1825.44,488 L1824.06,1283.1 A3.95,3.95 0 0 0 1831.94,1283.1 L1830.56,488 A2.55,2.55 0 0 0 1825.44,488 Z" fill="none" stroke="#6e6e6e" stroke-width="1.9" clip-path="url(#cRb)"/>
<path d="M1825.64,488 L1824.26,1283.1 A3.75,3.75 0 0 0 1831.74,1283.1 L1830.36,488 A2.35,2.35 0 0 0 1825.64,488 Z" fill="none" stroke="#666" stroke-width="2.3" clip-path="url(#cRc)"/>
<path d="M1825.84,488 L1824.46,1283.1 A3.55,3.55 0 0 0 1831.54,1283.1 L1830.16,488 A2.15,2.15 0 0 0 1825.84,488 Z" fill="none" stroke="#666" stroke-width="2.7" clip-path="url(#cRd)"/>
<path d="M1826.19,488 L1824.81,1283.1 A3.2,3.2 0 0 0 1831.19,1283.1 L1829.81,488 A1.8,1.8 0 0 0 1826.19,488 Z" fill="none" stroke="#666" stroke-width="3.4" clip-path="url(#cRe)"/>
<path d="M1843.9,484.25 L1842.96,1272.8 A3.55,3.55 0 0 0 1850.04,1272.8 L1849.1,484.25 A2.6,2.6 0 0 0 1843.9,484.25 Z" fill="none" stroke="#8a8a8a" stroke-width="1.3" clip-path="url(#cRa)"/>
<path d="M1844.2,484.25 L1843.26,1272.8 A3.25,3.25 0 0 0 1849.74,1272.8 L1848.8,484.25 A2.3,2.3 0 0 0 1844.2,484.25 Z" fill="none" stroke="#6e6e6e" stroke-width="1.9" clip-path="url(#cRb)"/>
<path d="M1844.4,484.25 L1843.46,1272.8 A3.05,3.05 0 0 0 1849.54,1272.8 L1848.6,484.25 A2.1,2.1 0 0 0 1844.4,484.25 Z" fill="none" stroke="#666" stroke-width="2.3" clip-path="url(#cRc)"/>
<path d="M1844.6,484.25 L1843.66,1272.8 A2.85,2.85 0 0 0 1849.34,1272.8 L1848.4,484.25 A1.9,1.9 0 0 0 1844.6,484.25 Z" fill="none" stroke="#666" stroke-width="2.7" clip-path="url(#cRd)"/>
<path d="M1844.95,484.25 L1844.01,1272.8 A2.5,2.5 0 0 0 1848.99,1272.8 L1848.05,484.25 A1.55,1.55 0 0 0 1844.95,484.25 Z" fill="none" stroke="#666" stroke-width="3.4" clip-path="url(#cRe)"/>
<path d="M1843.25,484.25 L1842.31,1272.8 A4.2,4.2 0 0 0 1850.69,1272.8 L1849.75,484.25 A3.25,3.25 0 0 0 1843.25,484.25 Z" fill="#666666" clip-path="url(#cRf2)"/>
<path d="M1858.4,479.25 L1857.31,1261.15 A3.2,3.2 0 0 0 1863.69,1261.15 L1862.6,479.25 A2.1,2.1 0 0 0 1858.4,479.25 Z" fill="none" stroke="#8a8a8a" stroke-width="1.3" clip-path="url(#cRa)"/>
<path d="M1858.7,479.25 L1857.61,1261.15 A2.9,2.9 0 0 0 1863.39,1261.15 L1862.3,479.25 A1.8,1.8 0 0 0 1858.7,479.25 Z" fill="none" stroke="#6e6e6e" stroke-width="1.9" clip-path="url(#cRb)"/>
<path d="M1858.9,479.25 L1857.81,1261.15 A2.7,2.7 0 0 0 1863.19,1261.15 L1862.1,479.25 A1.6,1.6 0 0 0 1858.9,479.25 Z" fill="none" stroke="#666" stroke-width="2.3" clip-path="url(#cRc)"/>
<path d="M1859.1,479.25 L1858.01,1261.15 A2.5,2.5 0 0 0 1862.99,1261.15 L1861.9,479.25 A1.4,1.4 0 0 0 1859.1,479.25 Z" fill="none" stroke="#666" stroke-width="2.7" clip-path="url(#cRd)"/>
<path d="M1859.45,479.25 L1858.36,1261.15 A2.15,2.15 0 0 0 1862.64,1261.15 L1861.55,479.25 A1.05,1.05 0 0 0 1859.45,479.25 Z" fill="none" stroke="#666" stroke-width="3.4" clip-path="url(#cRe)"/>
<path d="M1857.75,479.25 L1856.66,1261.15 A3.85,3.85 0 0 0 1864.34,1261.15 L1863.25,479.25 A2.75,2.75 0 0 0 1857.75,479.25 Z" fill="#666666" clip-path="url(#cRf3)"/>
<path d="M1868.65,476.5 L1868,1252.85 A2.5,2.5 0 0 0 1873,1252.85 L1872.35,476.5 A1.85,1.85 0 0 0 1868.65,476.5 Z" fill="none" stroke="#8a8a8a" stroke-width="1.3" clip-path="url(#cRa)"/>
<path d="M1868.95,476.5 L1868.3,1252.85 A2.2,2.2 0 0 0 1872.7,1252.85 L1872.05,476.5 A1.55,1.55 0 0 0 1868.95,476.5 Z" fill="none" stroke="#6e6e6e" stroke-width="1.9" clip-path="url(#cRb)"/>
<path d="M1869.15,476.5 L1868.5,1252.85 A2,2 0 0 0 1872.5,1252.85 L1871.85,476.5 A1.35,1.35 0 0 0 1869.15,476.5 Z" fill="none" stroke="#666" stroke-width="2.3" clip-path="url(#cRc)"/>
<path d="M1869.35,476.5 L1868.7,1252.85 A1.8,1.8 0 0 0 1872.3,1252.85 L1871.65,476.5 A1.15,1.15 0 0 0 1869.35,476.5 Z" fill="none" stroke="#666" stroke-width="2.7" clip-path="url(#cRd)"/>
<path d="M1869.7,476.5 L1869.05,1252.85 A1.45,1.45 0 0 0 1871.95,1252.85 L1871.3,476.5 A0.8,0.8 0 0 0 1869.7,476.5 Z" fill="none" stroke="#666" stroke-width="3.4" clip-path="url(#cRe)"/>
<path d="M1868,476.5 L1867.35,1252.85 A3.15,3.15 0 0 0 1873.65,1252.85 L1873,476.5 A2.5,2.5 0 0 0 1868,476.5 Z" fill="#666666" clip-path="url(#cRf4)"/>
<path d="M1401.5,487.81 C1407.1,503.46 1407.1,732.99 1401.5,748.64 C1395.9,732.99 1395.9,503.46 1401.5,487.81 Z" fill="#666666"/>
<path d="M1409.5,487.81 C1411.9,503.46 1411.9,732.99 1409.5,748.64 C1407.1,732.99 1407.1,503.46 1409.5,487.81 Z" fill="#666666"/>
<path d="M1435.5,487.1 C1441.1,503.06 1441.1,737.15 1435.5,753.11 C1429.9,737.15 1429.9,503.06 1435.5,487.1 Z" fill="#666666"/>
<path d="M1443.5,487.1 C1445.9,503.06 1445.9,737.15 1443.5,753.11 C1441.1,737.15 1441.1,503.06 1443.5,487.1 Z" fill="#666666"/>
<path d="M1469.5,486.39 C1475.1,502.66 1475.1,741.35 1469.5,757.63 C1463.9,741.35 1463.9,502.66 1469.5,486.39 Z" fill="#666666"/>
<path d="M1477.5,486.39 C1479.9,502.66 1479.9,741.35 1477.5,757.63 C1475.1,741.35 1475.1,502.66 1477.5,486.39 Z" fill="#666666"/>
<path d="M1505.5,485.62 C1511.1,502.23 1511.1,745.89 1505.5,762.5 C1499.9,745.89 1499.9,502.23 1505.5,485.62 Z" fill="#666666"/>
<path d="M1513.5,485.62 C1515.9,502.23 1515.9,745.89 1513.5,762.5 C1511.1,745.89 1511.1,502.23 1513.5,485.62 Z" fill="#666666"/>
<path d="M1540.5,484.81 C1546.1,501.76 1546.1,750.3 1540.5,767.25 C1534.9,750.3 1534.9,501.76 1540.5,484.81 Z" fill="#666666"/>
<path d="M1548.5,484.81 C1550.9,501.76 1550.9,750.3 1548.5,767.25 C1546.1,750.3 1546.1,501.76 1548.5,484.81 Z" fill="#666666"/>
<path d="M1577.5,483.96 C1583.1,501.23 1583.1,754.5 1577.5,771.77 C1571.9,754.5 1571.9,501.23 1577.5,483.96 Z" fill="#666666"/>
<path d="M1585.5,483.96 C1587.9,501.23 1587.9,754.5 1585.5,771.77 C1583.1,754.5 1583.1,501.23 1585.5,483.96 Z" fill="#666666"/>
<path d="M1612.5,482.98 C1618.1,500.55 1618.1,758.31 1612.5,775.89 C1606.9,758.31 1606.9,500.55 1612.5,482.98 Z" fill="#666666"/>
<path d="M1620.5,482.98 C1622.9,500.55 1622.9,758.31 1620.5,775.89 C1618.1,758.31 1618.1,500.55 1620.5,482.98 Z" fill="#666666"/>
<path d="M1648.5,481.71 C1654.1,499.62 1654.1,762.24 1648.5,780.15 C1642.9,762.24 1642.9,499.62 1648.5,481.71 Z" fill="#666666"/>
<path d="M1656.5,481.71 C1658.9,499.62 1658.9,762.24 1656.5,780.15 C1654.1,762.24 1654.1,499.62 1656.5,481.71 Z" fill="#666666"/>
<path d="M1684.5,480.45 C1690.1,498.76 1690.1,767.24 1684.5,785.55 C1678.9,767.24 1678.9,498.76 1684.5,480.45 Z" fill="#666666"/>
<path d="M1692.5,480.45 C1694.9,498.76 1694.9,767.24 1692.5,785.55 C1690.1,767.24 1690.1,498.76 1692.5,480.45 Z" fill="#666666"/>
<path d="M1717.5,478.24 C1723.1,497.01 1723.1,772.4 1717.5,791.17 C1711.9,772.4 1711.9,497.01 1717.5,478.24 Z" fill="#666666"/>
<path d="M1725.5,478.24 C1727.9,497.01 1727.9,772.4 1725.5,791.17 C1723.1,772.4 1723.1,497.01 1725.5,478.24 Z" fill="#666666"/>
<path d="M1749.5,475.41 C1755.1,494.77 1755.1,778.77 1749.5,798.13 C1743.9,778.77 1743.9,494.77 1749.5,475.41 Z" fill="#666666"/>
<path d="M1757.5,475.41 C1759.9,494.77 1759.9,778.77 1757.5,798.13 C1755.1,778.77 1755.1,494.77 1757.5,475.41 Z" fill="#666666"/>
<path d="M1402.8,980.71 L1402.3,1073.4 A3.7,3.7 0 0 0 1409.7,1073.4 L1409.2,980.71" fill="none" stroke="#666666" stroke-width="5.2" stroke-linecap="round" stroke-linejoin="round"/>
<path d="M1436.8,979.95 L1436.3,1080.8 A3.7,3.7 0 0 0 1443.7,1080.8 L1443.2,979.95" fill="none" stroke="#666666" stroke-width="5.2" stroke-linecap="round" stroke-linejoin="round"/>
<path d="M1471.5,978.87 L1471,1087.4 A3.7,3.7 0 0 0 1478.4,1087.4 L1477.9,978.87" fill="none" stroke="#666666" stroke-width="5.2" stroke-linecap="round" stroke-linejoin="round"/>
<path d="M1505.5,977.4 L1505,1093.4 A3.7,3.7 0 0 0 1512.4,1093.4 L1511.9,977.4" fill="none" stroke="#666666" stroke-width="5.2" stroke-linecap="round" stroke-linejoin="round"/>
<path d="M1540.1,975.9 L1539.6,1100.1 A3.7,3.7 0 0 0 1547,1100.1 L1546.5,975.9" fill="none" stroke="#666666" stroke-width="5.2" stroke-linecap="round" stroke-linejoin="round"/>
<path d="M1575.3,973.37 L1574.8,1106.6 A3.7,3.7 0 0 0 1582.2,1106.6 L1581.7,973.37" fill="none" stroke="#666666" stroke-width="5.2" stroke-linecap="round" stroke-linejoin="round"/>
<path d="M1611.3,970.42 L1610.8,1113.1 A3.7,3.7 0 0 0 1618.2,1113.1 L1617.7,970.42" fill="none" stroke="#666666" stroke-width="5.2" stroke-linecap="round" stroke-linejoin="round"/>
<path d="M1648.4,967.28 L1647.9,1119.6 A3.7,3.7 0 0 0 1655.3,1119.6 L1654.8,967.28" fill="none" stroke="#666666" stroke-width="5.2" stroke-linecap="round" stroke-linejoin="round"/>
<path d="M1684.5,962.38 L1684,1127.1 A3.7,3.7 0 0 0 1691.4,1127.1 L1690.9,962.38" fill="none" stroke="#666666" stroke-width="5.2" stroke-linecap="round" stroke-linejoin="round"/>
<path d="M1717.1,957.94 L1716.6,1135.1 A3.7,3.7 0 0 0 1724,1135.1 L1723.5,957.94" fill="none" stroke="#666666" stroke-width="5.2" stroke-linecap="round" stroke-linejoin="round"/>
<path d="M1748.6,951.64 L1748.1,1144.1 A3.7,3.7 0 0 0 1755.5,1144.1 L1755,951.64" fill="none" stroke="#666666" stroke-width="5.2" stroke-linecap="round" stroke-linejoin="round"/>
</g>
<g>
<line x1="116.1" y1="161" x2="116.1" y2="367.5" stroke="#151515" stroke-width="1.6" stroke-linecap="butt"/>
<line x1="1876.9" y1="161" x2="1876.9" y2="411" stroke="#151515" stroke-width="1.6" stroke-linecap="butt"/>
<line x1="115" y1="161.1" x2="1878" y2="161.1" stroke="#e41e26" stroke-width="5.6" stroke-linecap="butt"/>
<line x1="557.5" y1="401" x2="1246.5" y2="363.6" stroke="#e41e26" stroke-width="5" stroke-linecap="butt"/>
<line x1="434" y1="546" x2="1769" y2="655.3" stroke="#e41e26" stroke-width="5" stroke-linecap="butt"/>
<line x1="1198.6" y1="487" x2="1198.6" y2="930.5" stroke="#e41e26" stroke-width="5.4" stroke-linecap="butt"/>
<line x1="1553.2" y1="437" x2="1553.2" y2="1330.5" stroke="#e41e26" stroke-width="5.4" stroke-linecap="butt"/>
<line x1="576.9" y1="884" x2="576.9" y2="1271" stroke="#e41e26" stroke-width="5.4" stroke-linecap="butt"/>
<line x1="437.6" y1="1232.6" x2="575" y2="1270.8" stroke="#151515" stroke-width="1.6" stroke-linecap="butt"/>
<line x1="1555.5" y1="1330.2" x2="1763" y2="1370.6" stroke="#151515" stroke-width="1.6" stroke-linecap="butt"/>
<g transform="translate(906.4,151.7) rotate(0)"><path d="M6.6,-37.4 L14.3,-37.4 L14.3,0 L6.6,0 L6.6,-29.7 L0,-26.4 L0,-31.9 Z" fill="#000"/><path d="M26.4,-18.85 A12.4,19.45 0 1 0 51.2,-18.85 A12.4,19.45 0 1 0 26.4,-18.85 Z M33.5,-18.85 A5.3,12.75 0 1 1 44.1,-18.85 A5.3,12.75 0 1 1 33.5,-18.85 Z" fill="#000" fill-rule="evenodd"/><path d="M55,-18.85 A12.4,19.45 0 1 0 79.8,-18.85 A12.4,19.45 0 1 0 55,-18.85 Z M62.1,-18.85 A5.3,12.75 0 1 1 72.7,-18.85 A5.3,12.75 0 1 1 62.1,-18.85 Z" fill="#000" fill-rule="evenodd"/><path transform="translate(84.2,0)" d="M24.47,-20.25 A12.2,12.4 0 1 0 24.47,-7.85 M36.2,0 L36.2,-27.9 M36.2,-17 C36.2,-22.16 40.39,-26.35 45.55,-26.35 C50.71,-26.35 54.9,-22.16 54.9,-17 L54.9,0 M54.9,-17 C54.9,-22.19 59.11,-26.4 64.3,-26.4 C69.49,-26.4 73.7,-22.19 73.7,-17 L73.7,0" fill="none" stroke="#000" stroke-width="3.4"/></g>
<g transform="translate(717.8,382.2) rotate(-2.5)"><text x="0" y="0" transform="matrix(0.49,0,0,0.54,-1.48,0)" font-family="Liberation Sans, sans-serif" font-weight="bold" font-size="100" fill="#000">5</text><path d="M28.9,-18.85 A12.75,19.45 0 1 0 54.4,-18.85 A12.75,19.45 0 1 0 28.9,-18.85 Z M36,-18.85 A5.65,12.75 0 1 1 47.3,-18.85 A5.65,12.75 0 1 1 36,-18.85 Z" fill="#000" fill-rule="evenodd"/><path transform="translate(58.3,0)" d="M24.47,-20.25 A12.2,12.4 0 1 0 24.47,-7.85 M36.2,0 L36.2,-27.9 M36.2,-17 C36.2,-22.16 40.39,-26.35 45.55,-26.35 C50.71,-26.35 54.9,-22.16 54.9,-17 L54.9,0 M54.9,-17 C54.9,-22.19 59.11,-26.4 64.3,-26.4 C69.49,-26.4 73.7,-22.19 73.7,-17 L73.7,0" fill="none" stroke="#000" stroke-width="3.4"/></g>
<g transform="translate(695.5,557.7) rotate(4.2)"><circle cx="11.2" cy="-11.3" r="8.3" fill="none" stroke="#000" stroke-width="6"/><path d="M4,-13.5 L16.3,-37.4" stroke="#000" stroke-width="6.2"/><text x="0" y="0" transform="matrix(0.5,0,0,0.54,25.51,0)" font-family="Liberation Sans, sans-serif" font-weight="bold" font-size="100" fill="#000">5</text><path transform="translate(56,0)" d="M24.47,-20.25 A12.2,12.4 0 1 0 24.47,-7.85 M36.2,0 L36.2,-27.9 M36.2,-17 C36.2,-22.16 40.39,-26.35 45.55,-26.35 C50.71,-26.35 54.9,-22.16 54.9,-17 L54.9,0 M54.9,-17 C54.9,-22.19 59.11,-26.4 64.3,-26.4 C69.49,-26.4 73.7,-22.19 73.7,-17 L73.7,0" fill="none" stroke="#000" stroke-width="3.4"/></g>
<g transform="translate(1211.7,761.2) rotate(90)"><path d="M6.69,-37.4 L14.5,-37.4 L14.5,0 L6.69,0 L6.69,-29.7 L0,-26.4 L0,-31.9 Z" fill="#000"/><circle cx="38.3" cy="-11.3" r="8.3" fill="none" stroke="#000" stroke-width="6"/><path d="M31.1,-13.5 L43.4,-37.4" stroke="#000" stroke-width="6.2"/><path transform="translate(56,0)" d="M24.47,-20.25 A12.2,12.4 0 1 0 24.47,-7.85 M36.2,0 L36.2,-27.9 M36.2,-17 C36.2,-22.16 40.39,-26.35 45.55,-26.35 C50.71,-26.35 54.9,-22.16 54.9,-17 L54.9,0 M54.9,-17 C54.9,-22.19 59.11,-26.4 64.3,-26.4 C69.49,-26.4 73.7,-22.19 73.7,-17 L73.7,0" fill="none" stroke="#000" stroke-width="3.4"/></g>
<g transform="translate(589.6,1020.6) rotate(90)"><text x="0" y="0" transform="matrix(0.51,0,0,0.54,-1.53,0)" font-family="Liberation Sans, sans-serif" font-weight="bold" font-size="100" fill="#000">2</text><path d="M28.9,-18.85 A12.85,19.45 0 1 0 54.6,-18.85 A12.85,19.45 0 1 0 28.9,-18.85 Z M36,-18.85 A5.75,12.75 0 1 1 47.5,-18.85 A5.75,12.75 0 1 1 36,-18.85 Z" fill="#000" fill-rule="evenodd"/><path transform="translate(59.2,0)" d="M24.47,-20.25 A12.2,12.4 0 1 0 24.47,-7.85 M36.2,0 L36.2,-27.9 M36.2,-17 C36.2,-22.16 40.39,-26.35 45.55,-26.35 C50.71,-26.35 54.9,-22.16 54.9,-17 L54.9,0 M54.9,-17 C54.9,-22.19 59.11,-26.4 64.3,-26.4 C69.49,-26.4 73.7,-22.19 73.7,-17 L73.7,0" fill="none" stroke="#000" stroke-width="3.4"/></g>
<g transform="translate(1542.3,1308.3) rotate(-90)"><text x="0" y="0" transform="matrix(0.5,0,0,0.54,-1,0)" font-family="Liberation Sans, sans-serif" font-weight="bold" font-size="100" fill="#000">4</text><path d="M29.6,-18.85 A12.4,19.45 0 1 0 54.4,-18.85 A12.4,19.45 0 1 0 29.6,-18.85 Z M36.7,-18.85 A5.3,12.75 0 1 1 47.3,-18.85 A5.3,12.75 0 1 1 36.7,-18.85 Z" fill="#000" fill-rule="evenodd"/><path transform="translate(59.3,0)" d="M24.47,-20.25 A12.2,12.4 0 1 0 24.47,-7.85 M36.2,0 L36.2,-27.9 M36.2,-17 C36.2,-22.16 40.39,-26.35 45.55,-26.35 C50.71,-26.35 54.9,-22.16 54.9,-17 L54.9,0 M54.9,-17 C54.9,-22.19 59.11,-26.4 64.3,-26.4 C69.49,-26.4 73.7,-22.19 73.7,-17 L73.7,0" fill="none" stroke="#000" stroke-width="3.4"/></g>
</g>
</svg>
</body></html>
